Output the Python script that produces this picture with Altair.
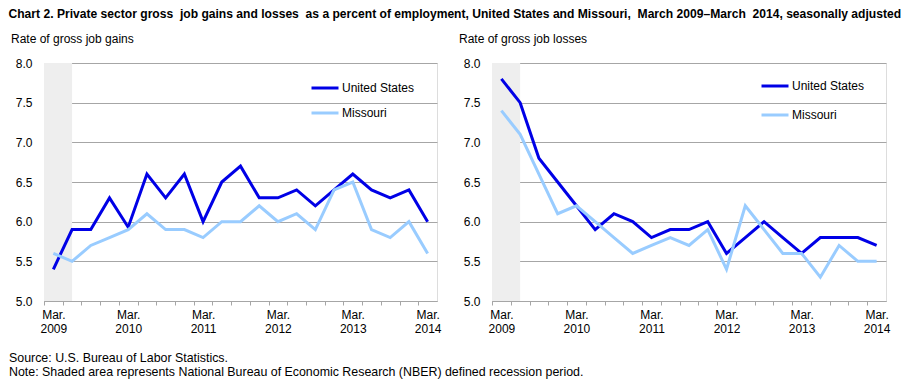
import json
import altair as alt
import pandas as pd

# ---------------- data ----------------
quarters = [
    "Mar. 2009", "Jun. 2009", "Sep. 2009", "Dec. 2009",
    "Mar. 2010", "Jun. 2010", "Sep. 2010", "Dec. 2010",
    "Mar. 2011", "Jun. 2011", "Sep. 2011", "Dec. 2011",
    "Mar. 2012", "Jun. 2012", "Sep. 2012", "Dec. 2012",
    "Mar. 2013", "Jun. 2013", "Sep. 2013", "Dec. 2013",
    "Mar. 2014",
]
gains_us = [5.4, 5.9, 5.9, 6.3, 5.93, 6.6, 6.3, 6.6, 6.0, 6.5, 6.7, 6.3, 6.3, 6.4, 6.2, 6.4, 6.6, 6.4, 6.3, 6.4, 6.0]
gains_mo = [5.6, 5.5, 5.7, 5.8, 5.9, 6.1, 5.9, 5.9, 5.8, 6.0, 6.0, 6.2, 6.0, 6.1, 5.9, 6.4, 6.5, 5.9, 5.8, 6.0, 5.6]
losses_us = [7.8, 7.5, 6.8, 6.5, 6.2, 5.9, 6.1, 6.0, 5.8, 5.9, 5.9, 6.0, 5.6, 5.8, 6.0, 5.8, 5.6, 5.8, 5.8, 5.8, 5.7]
losses_mo = [7.4, 7.1, 6.6, 6.1, 6.2, 6.0, 5.8, 5.6, 5.7, 5.8, 5.7, 5.9, 5.4, 6.2, 5.9, 5.6, 5.6, 5.3, 5.7, 5.5, 5.5]
series = ["United States", "Missouri"]
colors = ["#0000E6", "#99CCFF"]
x_tick_labels = [["Mar.", "2009"], ["Mar.", "2010"], ["Mar.", "2011"],
                 ["Mar.", "2012"], ["Mar.", "2013"], ["Mar.", "2014"]]
y_ticks = [5.0, 5.5, 6.0, 6.5, 7.0, 7.5, 8.0]
recession_quarters = ["Mar. 2009", "Jun. 2009"]  # NBER recession ended June 2009

NB = "\u00a0"
title_text = (f"Chart 2. Private sector gross {NB}job gains and losses {NB}as a percent of employment, "
              f"United States and Missouri, {NB}March 2009\u2013March {NB}2014, seasonally adjusted")
footnote = ("Source: U.S. Bureau of Labor Statistics.\n"
            "Note: Shaded area represents National Bureau of Economic Research (NBER) defined recession period.")

FONT = "Liberation Sans, Arial, sans-serif"
GRAY = "#A6A6A6"

n = len(quarters)
idx = list(range(n))

def frame(us, mo):
    return pd.DataFrame({"i": idx, "quarter": quarters, "us": us, "mo": mo})

recession = pd.DataFrame({
    "start": [quarters.index(recession_quarters[0]) - 0.5],
    "end": [float(quarters.index(recession_quarters[1]))],
    "lo": [y_ticks[0]], "hi": [y_ticks[-1]],
})

H = 238
label_js = json.dumps(x_tick_labels)
xsc = alt.Scale(domain=[-0.5, n - 0.5], nice=False, zero=False)
ysc = alt.Scale(domain=[y_ticks[0], y_ticks[-1]], nice=False, zero=False)
csc = alt.Scale(domain=series, range=colors)


def panel(us, mo, subtitle, W, lx, ly, row_pad):
    df = frame(us, mo)
    xaxis = alt.Axis(
        title=None, grid=False, values=[i - 0.5 for i in idx],
        labelExpr=f"((datum.value + 0.5) % 4 == 0) ? {label_js}[(datum.value + 0.5) / 4] : ''",
        labelOffset=W / n / 2, labelPadding=4, tickSize=4, tickColor=GRAY,
        domainColor=GRAY, labelFlush=False, labelOverlap=False,
        labelFont=FONT, labelFontSize=12, labelColor="#000000", labelLineHeight=14.5,
    )
    yaxis = alt.Axis(
        title=None, values=y_ticks, format=".1f", grid=True, gridColor=GRAY,
        ticks=False, labelPadding=12, domainColor=GRAY, minExtent=33, maxExtent=33,
        labelFont=FONT, labelFontSize=12, labelColor="#000000",
    )
    legend = alt.Legend(
        title=None, orient="none", legendX=lx, legendY=ly, symbolType="stroke",
        symbolStrokeWidth=3, symbolSize=729, labelFont=FONT, labelFontSize=12,
        labelOffset=2, padding=0, rowPadding=row_pad, labelColor="#000000",
    )
    shade = alt.Chart(recession).mark_rect(color="#EEEEEE").encode(
        x=alt.X("start:Q", scale=xsc, axis=xaxis), x2="end",
        y=alt.Y("lo:Q", scale=ysc, axis=yaxis), y2="hi",
    )
    us_line = alt.Chart(df).transform_calculate(s="'United States'").mark_line(strokeWidth=3).encode(
        x=alt.X("i:Q", scale=xsc, axis=xaxis), y=alt.Y("us:Q", scale=ysc, axis=yaxis),
        color=alt.Color("s:N", scale=csc, legend=legend),
    )
    mo_line = alt.Chart(df).transform_calculate(s="'Missouri'").mark_line(strokeWidth=3).encode(
        x=alt.X("i:Q", scale=xsc, axis=xaxis), y=alt.Y("mo:Q", scale=ysc, axis=yaxis),
        color=alt.Color("s:N", scale=csc, legend=legend),
    )
    return alt.layer(shade, us_line, mo_line).properties(
        width=W, height=H,
        title=alt.TitleParams(subtitle, anchor="start", frame="bounds", font=FONT,
                              fontSize=12, fontWeight="normal", offset=11, color="#000000"),
    )


left = panel(gains_us, gains_mo, "Rate of gross job gains", 393, 266, 10, 4)
right = panel(losses_us, losses_mo, "Rate of gross job losses", 394, 268, 8, 8)

note = alt.Chart(pd.DataFrame({"t": [footnote]})).mark_text(
    align="left", baseline="top", lineBreak="\n", font=FONT, fontSize=12.4,
    lineHeight=14, color="#000000",
).encode(x=alt.value(-35), y=alt.value(0), text="t:N").properties(
    width=10, height=28, view=alt.ViewBackground(stroke="transparent"))

top = alt.hconcat(left, right, spacing=16).resolve_scale(color="independent")

chart = alt.vconcat(top, note, spacing=16).properties(
    padding={"left": 0, "top": 0, "right": 2, "bottom": 0},
    title=alt.TitleParams(title_text, anchor="start", frame="bounds", font=FONT, fontSize=12.1,
                          fontWeight="bold", offset=12, color="#000000"),
).configure_view(stroke=GRAY, strokeWidth=1).configure(background="white")

chart.save("out.html", embed_options={"renderer": "svg", "actions": False})
